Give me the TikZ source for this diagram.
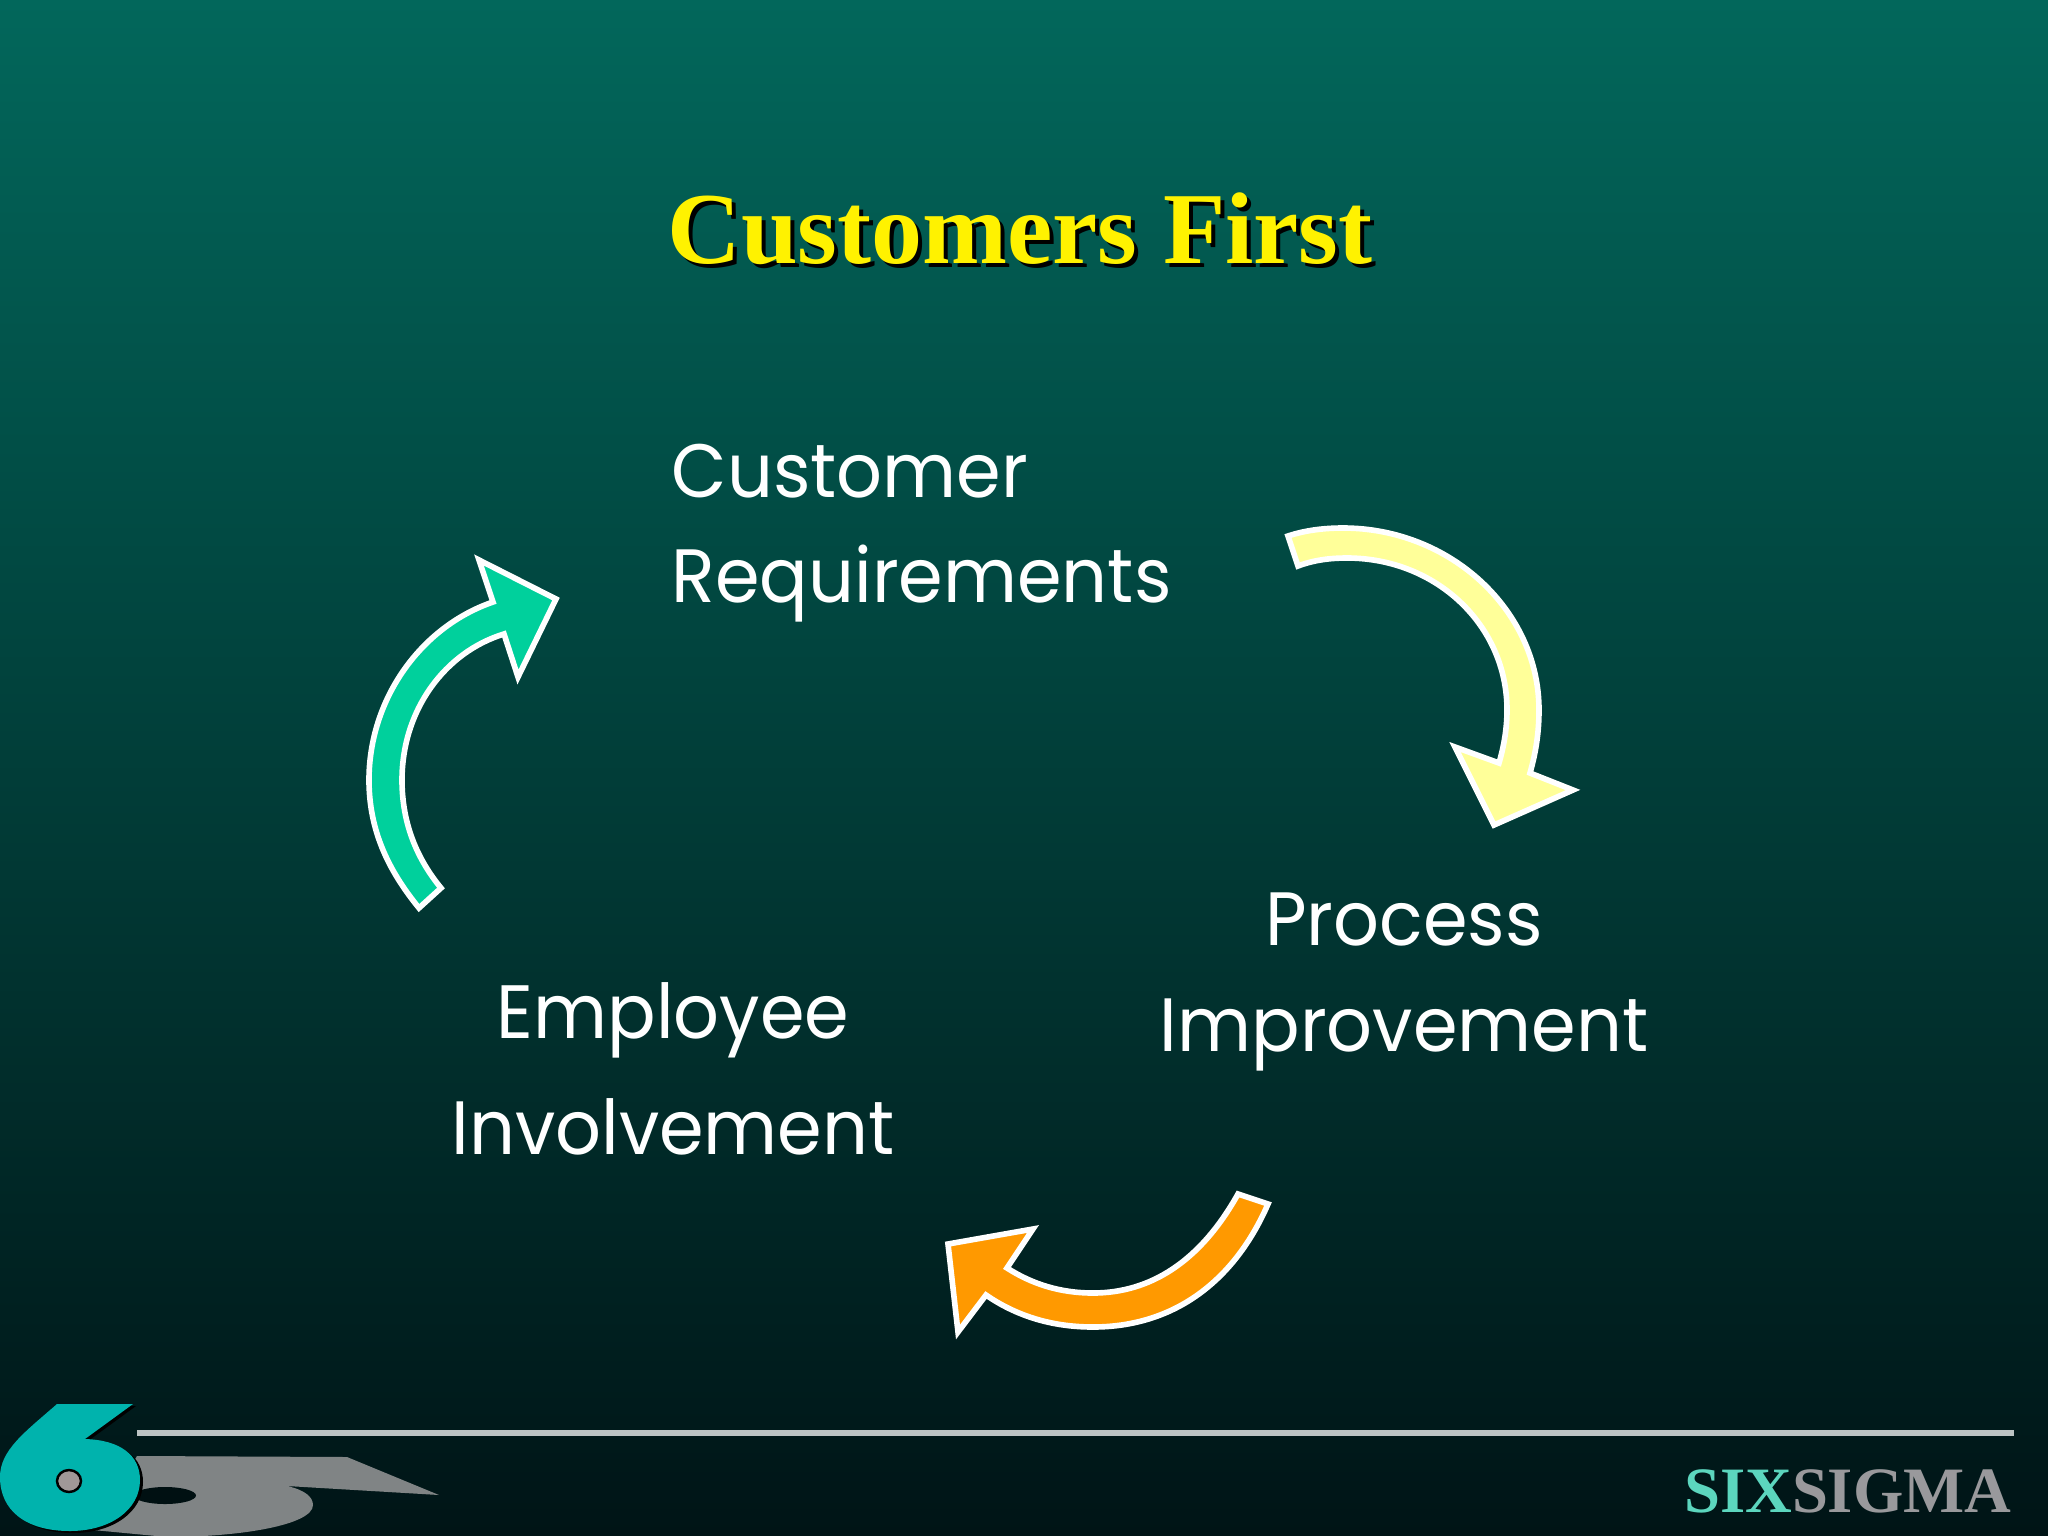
\documentclass[tikz,border=0pt]{standalone}
\usepackage{fontspec}
\setmainfont{Liberation Serif}
\newfontfamily\handfont[FakeStretch=0.95]{Poppins}
\definecolor{bgtop}{RGB}{2,103,91}
\definecolor{bgmid}{RGB}{1,62,58}
\definecolor{bgbot}{RGB}{0,20,22}
\definecolor{sixteal}{RGB}{0,179,173}
\definecolor{sixgrey}{RGB}{128,132,133}
\definecolor{sixhole}{RGB}{160,152,152}
\definecolor{sixlight}{RGB}{92,214,190}
\definecolor{sigmagrey}{RGB}{153,153,156}
\definecolor{rulegrey}{RGB}{188,196,196}
\definecolor{arrowgreen}{RGB}{0,208,156}
\definecolor{arrowyellow}{RGB}{255,255,153}
\definecolor{arroworange}{RGB}{255,153,0}
\newcommand{\sixpath}{(57,1404) -- (133,1404) -- (85,1439) .. controls (120,1440) and (140,1455) .. (140,1480) .. controls (140,1510) and (110,1531) .. (70,1531) .. controls (25,1531) and (0,1510) .. (0,1477) .. controls (0,1450) and (25,1432) .. cycle}
\tikzset{
  titletext/.style={inner sep=0pt,font=\fontsize{29}{35}\selectfont\bfseries},
  handtext/.style={inner sep=0pt,text=white,align=center,font=\handfont\fontsize{21.5}{30}\selectfont},
  bigarrow/.style={draw=white,line width=1.6pt,miter limit=10}
}
\begin{document}
\begin{tikzpicture}[x=0.01cm,y=-0.01cm]
\useasboundingbox (0,0) rectangle (2048,1536);
\shade [top color=bgtop,middle color=bgmid,bottom color=bgbot] (0,0) rectangle (2048,1536);

\node (titleshadow) [titletext,text=black] at (1024,233) {Customers First};
\node (title) [titletext,text=yellow] at (1020,229) {Customers First};

\node (customer) [handtext,align=left,anchor=west] at (671,533) {Customer\\Requirements};
\node (process) [handtext] at (1404,982) {Process\\Improvement};
\node (employee) [handtext] at (673,1069) {Employee\\[3pt]Involvement};

\draw [bigarrow,fill=arrowgreen] (419,908) .. controls (388,870) and (369,830) .. (369,780)
  .. controls (369,700) and (420,627) .. (493,602) -- (479,560) -- (556,599) -- (518,677) -- (504,634)
  .. controls (445,652) and (402,710) .. (402,780) .. controls (402,825) and (418,860) .. (441,888) -- cycle;
\draw [bigarrow,fill=arrowyellow] (1288,536) .. controls (1306,530) and (1325,528) .. (1343,528)
  .. controls (1450,528) and (1539,610) .. (1539,710) .. controls (1539,732) and (1536,752) .. (1530,773)
  -- (1573,790) -- (1494,825) -- (1455,747) -- (1499,763)
  .. controls (1504,746) and (1507,728) .. (1507,710) .. controls (1507,625) and (1436,558) .. (1347,558)
  .. controls (1330,558) and (1314,560) .. (1298,566) -- cycle;
\draw [bigarrow,fill=arroworange] (1268,1204) .. controls (1235,1280) and (1175,1327) .. (1093,1327)
  .. controls (1050,1327) and (1015,1315) .. (986,1295) -- (958,1332) -- (948,1244) -- (1033,1229) -- (1007,1268)
  .. controls (1032,1284) and (1060,1293) .. (1093,1293) .. controls (1150,1293) and (1200,1262) .. (1238,1194) -- cycle;

\fill [sixgrey] (137,1456) -- (347,1457) -- (439,1495) -- (287,1486) .. controls (305,1490) and (313,1497) .. (313,1505)
  .. controls (313,1525) and (240,1537) .. (167,1537) -- (93,1530) -- cycle;
\fill [bgbot!80!black] (165,1495.5) ellipse (31 and 8.5);
\fill [black,shift={(3,2)}] \sixpath;
\fill [sixteal] \sixpath;
\draw [black,line width=0.7pt,fill=sixhole] (69,1481) ellipse (12 and 11);

\draw [rulegrey,line width=1.7pt] (137,1433) -- (2014,1433);

\node (logotext) [inner sep=0pt,anchor=base east,font=\fontsize{18.4}{22}\selectfont\bfseries] at (2012,1512) {\textcolor{sixlight}{SIX}\textcolor{sigmagrey}{SIGMA}};
\end{tikzpicture}
\end{document}
